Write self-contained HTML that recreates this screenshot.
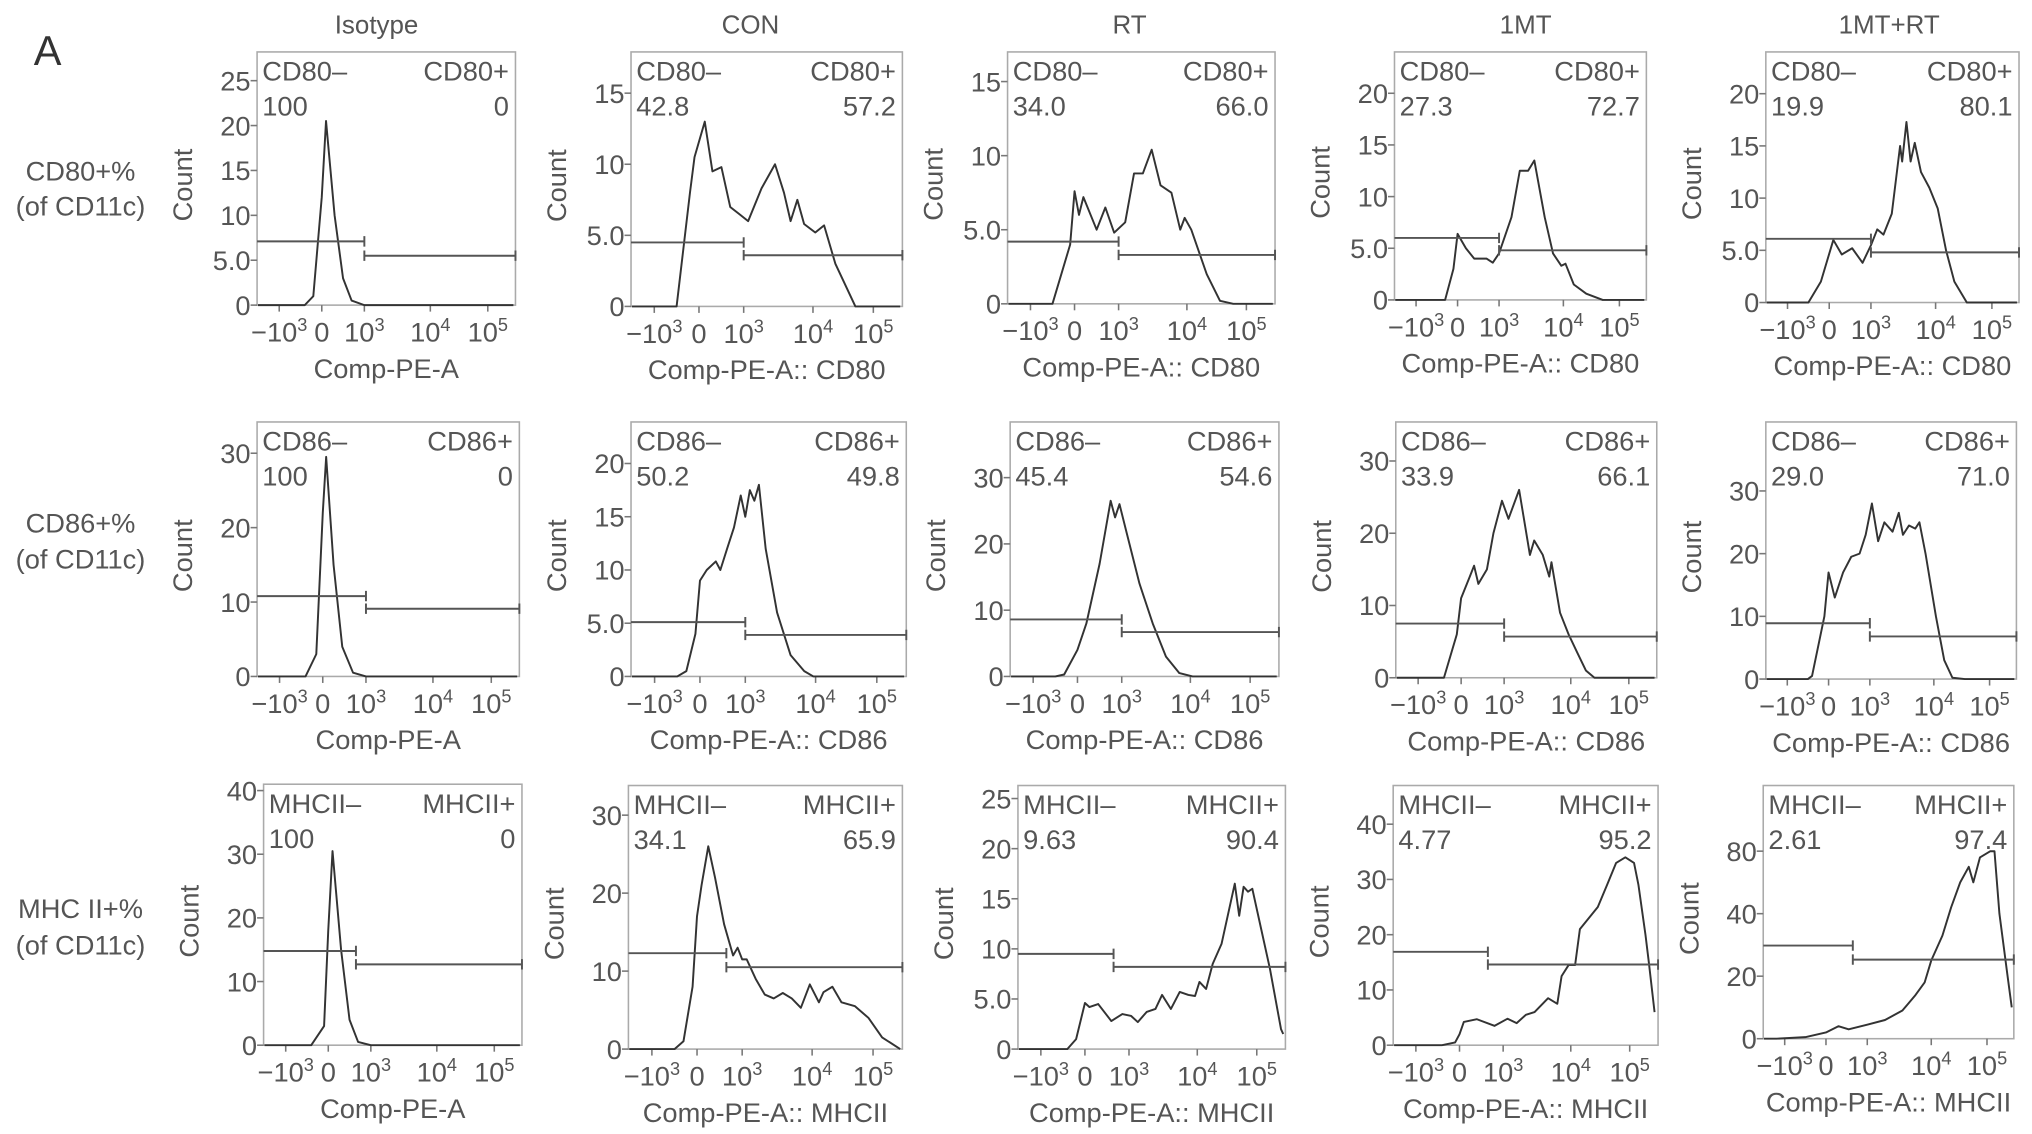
<!DOCTYPE html>
<html><head><meta charset="utf-8"><style>
html,body{margin:0;padding:0;background:#fff;}
svg{display:block;font-family:"Liberation Sans",Arial,sans-serif;}
</style></head><body>
<svg id="fig" width="2032" height="1134" viewBox="0 0 1565 873.4" preserveAspectRatio="none" xmlns="http://www.w3.org/2000/svg">
<text x="26" y="50" font-size="32" fill="#333">A</text>
<g font-size="20" fill="#555" text-anchor="middle">
<text x="290" y="26">Isotype</text>
<text x="578" y="26">CON</text>
<text x="870" y="26">RT</text>
<text x="1175" y="26">1MT</text>
<text x="1455" y="26">1MT+RT</text>
</g>
<g font-size="21" fill="#555" text-anchor="middle">
<text x="62" y="139">CD80+%</text>
<text x="62" y="166">(of CD11c)</text>
<text x="62" y="410">CD86+%</text>
<text x="62" y="438">(of CD11c)</text>
<text x="62" y="707">MHC II+%</text>
<text x="62" y="735">(of CD11c)</text>
</g>
</svg>
<script>
// x-axis display units: -10^3=-1, 0=0, 10^3=1, 10^4=2.55, 10^5=3.9
const xTickVals = [-1, 0, 1, 2.55, 3.9];
const xTickExp = ["3", "", "3", "4", "5"];
const xTickBase = ["\u221210", "0", "10", "10", "10"];
const xDomain = [-1.52, 4.55];

// Row 1 CD80
const iso80X = [-1.5,-0.4,-0.2,0,0.1,0.3,0.5,0.7,1.0,4.5];
const iso80Y = [0,0,1,12,20.5,10,3,0.5,0,0];
const con80X = [-1.5,-0.5,-0.2,-0.1,0.13,0.3,0.5,0.7,0.9,1.1,1.4,1.7,1.9,2.05,2.2,2.35,2.6,2.8,3.05,3.5,4.5];
const con80Y = [0,0,8,10.5,13,9.5,9.8,7,6.5,6,8.3,10,8,6,7.5,5.8,5.2,5.7,3,0,0];
const rt80X = [-1.5,-0.5,-0.1,0,0.1,0.2,0.5,0.7,0.9,1.15,1.35,1.55,1.75,1.95,2.2,2.4,2.5,2.65,3.0,3.3,3.6,4.5];
const rt80Y = [0,0,4,7.6,6,7.2,5,6.5,4.8,5.5,8.8,8.8,10.4,8,7.5,5,5.8,5,2,0.2,0,0];
const mt80X = [-1.5,-0.3,-0.1,0,0.2,0.4,0.7,0.85,1.0,1.3,1.5,1.7,1.85,2.1,2.3,2.5,2.6,2.8,3.1,3.5,4.5];
const mt80Y = [0,0,3,6.4,5,4,4,3.6,4.5,8,12.5,12.5,13.5,8,4.5,3.3,3.5,1.5,0.6,0,0];
const mtrt80X = [-1.5,-0.5,-0.2,0.1,0.3,0.55,0.8,1.0,1.15,1.3,1.5,1.7,1.75,1.85,1.95,2.05,2.2,2.4,2.6,2.8,3.0,3.3,4.5];
const mtrt80Y = [0,0,2,6,4.6,5.2,3.8,5.5,7,6.5,8.5,15,13.5,17.3,13.5,15.3,12.5,11,9,5,2,0,0];

// Row 2 CD86
const iso86X = [-1.5,-0.4,-0.15,0,0.08,0.25,0.45,0.7,1.0,4.5];
const iso86Y = [0,0,3,22,29.5,15,4,0.5,0,0];
const con86X = [-1.5,-0.5,-0.3,-0.1,0,0.15,0.35,0.45,0.6,0.75,0.9,1.0,1.1,1.2,1.3,1.45,1.7,2.0,2.3,2.5,4.5];
const con86Y = [0,0,0.5,4,9,10,10.8,10,12,14,17,15,17.5,16.5,18,12,6,2,0.5,0,0];
const rt86X = [-1.5,-0.5,-0.3,0,0.2,0.5,0.75,0.85,0.95,1.1,1.4,1.7,2.0,2.3,2.6,4.5];
const rt86Y = [0,0,0.3,4,8,17,26.5,24,26,22,14,8,3,0.5,0,0];
const mt86X = [-1.5,-0.4,-0.1,0,0.2,0.3,0.4,0.6,0.75,0.95,1.1,1.35,1.6,1.7,1.9,2.05,2.1,2.3,2.5,2.7,2.9,3.1,4.5];
const mt86Y = [0,0,6,11,14,15.5,13,15,20,24.5,22,26,17,19,17,14,16,9,6,3.5,1,0,0];
const mtrt86X = [-1.5,-0.5,-0.4,-0.1,0,0.15,0.35,0.55,0.75,0.9,1.05,1.2,1.35,1.55,1.7,1.8,1.95,2.1,2.2,2.35,2.6,2.8,3.0,3.3,4.5];
const mtrt86Y = [0,0,0.5,10,17,13,17,19.5,20,23,28,22,25,23.5,26.5,23,24.5,24,25,20,10,3,0.2,0,0];

// Row 3 MHCII
const isoMhcX = [-1.5,-0.4,-0.1,0,0.1,0.3,0.5,0.7,1.0,4.5];
const isoMhcY = [0,0,3,18,30.5,15,4,0.5,0,0];
const conMhcX = [-1.5,-0.5,-0.3,-0.1,0,0.1,0.25,0.4,0.6,0.8,0.9,1.0,1.1,1.3,1.5,1.7,1.9,2.1,2.3,2.5,2.7,2.8,3.0,3.2,3.5,3.8,4.1,4.5];
const conMhcY = [0,0,1,8,17,21,26,22,16,12,13,11.5,11.5,9,7,6.5,7.2,6.5,5.3,8.3,6,7.3,8,6,5.5,4,1.5,0];
const rtMhcX = [-1.5,-0.4,-0.2,0,0.1,0.3,0.6,0.85,1.05,1.2,1.4,1.6,1.75,1.95,2.15,2.35,2.5,2.6,2.75,2.9,3.1,3.4,3.5,3.6,3.7,3.8,4.0,4.2,4.45,4.5];
const rtMhcY = [0,0,1,4.6,4.2,4.5,2.8,3.5,3.3,2.7,3.7,4,5.4,4,5.7,5.4,5.3,6.7,6,8.5,10.5,16.5,13.3,16.2,15.7,16,12,8,2,1.5];
const mtMhcX = [-1.5,-0.4,-0.1,0,0.1,0.4,0.8,1.1,1.31,1.52,1.72,2.03,2.24,2.34,2.5,2.65,2.76,3.17,3.38,3.59,3.8,4.0,4.1,4.26,4.34,4.47];
const mtMhcY = [0,0,0.5,2,4.2,4.7,3.5,4.8,4,5.5,6,8.5,7.5,12.5,14.5,14.5,21,25,29,33,34,33,29,20,15,6];
const mtrtMhcX = [-1.5,-1.2,-0.5,0,0.3,0.55,1.0,1.43,1.85,2.17,2.39,2.55,2.82,3.03,3.25,3.46,3.57,3.73,3.98,4.08,4.2,4.4,4.5];
const mtrtMhcY = [0,0,0.5,2,4,3,4.5,6,9,14,18,25,33,42,50,55,50,58,60,60,40,20,10];

const panels = [
 {id:"cd80-isotype",x0:198,x1:397,y0:40,y1:235,ymax:28.2,yt:[0,5,10,15,20,25],yl:["0","5.0","10","15","20","25"],gL:7.1,gR:5.5,gs:1,m:"CD80",a:"100",b:"0",xl:"Comp-PE-A",X:iso80X,Y:iso80Y},
 {id:"cd80-con",x0:486,x1:695,y0:40,y1:236,ymax:17.9,yt:[0,5,10,15],yl:["0","5.0","10","15"],gL:4.5,gR:3.6,gs:1,m:"CD80",a:"42.8",b:"57.2",xl:"Comp-PE-A:: CD80",X:con80X,Y:con80Y},
 {id:"cd80-rt",x0:776,x1:982,y0:40,y1:234,ymax:17,yt:[0,5,10,15],yl:["0","5.0","10","15"],gL:4.2,gR:3.3,gs:1,m:"CD80",a:"34.0",b:"66.0",xl:"Comp-PE-A:: CD80",X:rt80X,Y:rt80Y},
 {id:"cd80-1mt",x0:1074,x1:1268,y0:40,y1:231,ymax:24,yt:[0,5,10,15,20],yl:["0","5.0","10","15","20"],gL:6.0,gR:4.8,gs:1,m:"CD80",a:"27.3",b:"72.7",xl:"Comp-PE-A:: CD80",X:mt80X,Y:mt80Y},
 {id:"cd80-1mt-rt",x0:1360,x1:1555,y0:40,y1:233,ymax:24,yt:[0,5,10,15,20],yl:["0","5.0","10","15","20"],gL:6.1,gR:4.8,gs:1,m:"CD80",a:"19.9",b:"80.1",xl:"Comp-PE-A:: CD80",X:mtrt80X,Y:mtrt80Y},
 {id:"cd86-isotype",x0:198,x1:400,y0:325,y1:521,ymax:34.2,yt:[0,10,20,30],yl:["0","10","20","30"],gL:10.8,gR:9.1,gs:1,m:"CD86",a:"100",b:"0",xl:"Comp-PE-A",X:iso86X,Y:iso86Y},
 {id:"cd86-con",x0:486,x1:698,y0:325,y1:521,ymax:23.9,yt:[0,5,10,15,20],yl:["0","5.0","10","15","20"],gL:5.1,gR:3.9,gs:1,m:"CD86",a:"50.2",b:"49.8",xl:"Comp-PE-A:: CD86",X:con86X,Y:con86Y},
 {id:"cd86-rt",x0:778,x1:985,y0:325,y1:521,ymax:38.4,yt:[0,10,20,30],yl:["0","10","20","30"],gL:8.6,gR:6.7,gs:1,m:"CD86",a:"45.4",b:"54.6",xl:"Comp-PE-A:: CD86",X:rt86X,Y:rt86Y},
 {id:"cd86-1mt",x0:1075,x1:1276,y0:325,y1:522,ymax:35.4,yt:[0,10,20,30],yl:["0","10","20","30"],gL:7.5,gR:5.7,gs:1,m:"CD86",a:"33.9",b:"66.1",xl:"Comp-PE-A:: CD86",X:mt86X,Y:mt86Y},
 {id:"cd86-1mt-rt",x0:1360,x1:1553,y0:325,y1:523,ymax:41,yt:[0,10,20,30],yl:["0","10","20","30"],gL:8.9,gR:6.8,gs:1,m:"CD86",a:"29.0",b:"71.0",xl:"Comp-PE-A:: CD86",X:mtrt86X,Y:mtrt86Y},
 {id:"mhcii-isotype",x0:203,x1:402,y0:604,y1:805,ymax:41,yt:[0,10,20,30,40],yl:["0","10","20","30","40"],gL:14.8,gR:12.7,gs:0.65,m:"MHCII",a:"100",b:"0",xl:"Comp-PE-A",X:isoMhcX,Y:isoMhcY},
 {id:"mhcii-con",x0:484,x1:695,y0:605,y1:808,ymax:33.8,yt:[0,10,20,30],yl:["0","10","20","30"],gL:12.3,gR:10.5,gs:0.65,m:"MHCII",a:"34.1",b:"65.9",xl:"Comp-PE-A:: MHCII",X:conMhcX,Y:conMhcY},
 {id:"mhcii-rt",x0:784,x1:990,y0:605,y1:808,ymax:26.3,yt:[0,5,10,15,20,25],yl:["0","5.0","10","15","20","25"],gL:9.5,gR:8.2,gs:0.65,m:"MHCII",a:"9.63",b:"90.4",xl:"Comp-PE-A:: MHCII",X:rtMhcX,Y:rtMhcY},
 {id:"mhcii-1mt",x0:1073,x1:1277,y0:605,y1:805,ymax:47,yt:[0,10,20,30,40],yl:["0","10","20","30","40"],gL:16.9,gR:14.6,gs:0.65,m:"MHCII",a:"4.77",b:"95.2",xl:"Comp-PE-A:: MHCII",X:mtMhcX,Y:mtMhcY},
 {id:"mhcii-1mt-rt",x0:1358,x1:1551,y0:605,y1:800,ymax:81,yt:[0,20,40,60],yl:["0","20","40","80"],gL:29.8,gR:25.3,gs:0.65,m:"MHCII",a:"2.61",b:"97.4",xl:"Comp-PE-A:: MHCII",X:mtrtMhcX,Y:mtrtMhcY}
];

const FS = 21;
const NS = "http://www.w3.org/2000/svg";
const svg = document.getElementById("fig");
function mk(tag, attrs, parent){
  const e = document.createElementNS(NS, tag);
  for (const k in attrs) e.setAttribute(k, attrs[k]);
  parent.appendChild(e);
  return e;
}
panels.forEach(p => {
  const g = mk("g", {}, svg);
  
  
  const sx = v => p.x0 + (v - xDomain[0]) / (xDomain[1] - xDomain[0]) * (p.x1 - p.x0);
  const sy = v => p.y1 - v / p.ymax * (p.y1 - p.y0);
  const fr = mk("rect", {x:p.x0, y:p.y0, width:p.x1-p.x0, height:p.y1-p.y0, fill:"none", stroke:"#aaa", "stroke-width":1.2}, g);
  
  
  p.yt.forEach((v, i) => {
    const y = sy(v);
    const t = mk("line", {x1:p.x0-5, x2:p.x0, y1:y, y2:y, stroke:"#777", "stroke-width":1.2}, g);
    
    
    const lb = mk("text", {x:p.x0-5, y:y+7.5, "font-size":FS, fill:"#555", "text-anchor":"end"}, g);
    lb.textContent = p.yl[i];
    
    
  });
  xTickVals.forEach((v, i) => {
    const x = sx(v);
    const t = mk("line", {x1:x, x2:x, y1:p.y1, y2:p.y1+5, stroke:"#777", "stroke-width":1.2}, g);
    
    
    const lb = mk("text", {x:x, y:p.y1+28, "font-size":FS, fill:"#555", "text-anchor":"middle"}, g);
    
    
    lb.appendChild(document.createTextNode(xTickBase[i]));
    if (xTickExp[i]) {
      const sp = mk("tspan", {"font-size":14, dy:-8}, lb);
      sp.textContent = xTickExp[i];
    }
  });
  const xt = mk("text", {x:(p.x0+p.x1)/2, y:p.y1+56, "font-size":FS, fill:"#555", "text-anchor":"middle"}, g);
  xt.textContent = p.xl;
  
  
  const cy = (p.y0+p.y1)/2 + 5;
  const yt = mk("text", {x:p.x0-50, y:cy, "font-size":FS, fill:"#555", "text-anchor":"middle", transform:`rotate(-90 ${p.x0-50} ${cy})`}, g);
  yt.textContent = "Count";
  
  
  const q = [[p.x0+4, p.y0+22, "start", p.m+"\u2013"], [p.x1-5, p.y0+22, "end", p.m+"+"], [p.x0+4, p.y0+49, "start", p.a], [p.x1-5, p.y0+49, "end", p.b]];
  q.forEach((d, i) => {
    const t = mk("text", {x:d[0], y:d[1], "font-size":FS, fill:"#555", "text-anchor":d[2]}, g);
    t.textContent = d[3];
    
    
  });
  let d = "";
  p.X.forEach((xv, i) => { d += (i ? "L" : "M") + sx(Math.max(xDomain[0], Math.min(xDomain[1], xv))).toFixed(1) + "," + sy(p.Y[i]).toFixed(1); });
  const h = mk("path", {d:d, fill:"none", stroke:"#333", "stroke-width":1.5, "stroke-linejoin":"round"}, g);
  
  
  const gx = sx(p.gs);
  const gl = mk("path", {d:`M${p.x0},${sy(p.gL)}H${gx}M${gx},${sy(p.gL)-4}V${sy(p.gL)+4}`, stroke:"#555", "stroke-width":1.5, fill:"none"}, g);
  
  
  const gr = mk("path", {d:`M${gx},${sy(p.gR)}H${p.x1}M${gx},${sy(p.gR)-4}V${sy(p.gR)+4}M${p.x1},${sy(p.gR)-4}V${sy(p.gR)+4}`, stroke:"#555", "stroke-width":1.5, fill:"none"}, g);
  
  
});
</script>
</body></html>
